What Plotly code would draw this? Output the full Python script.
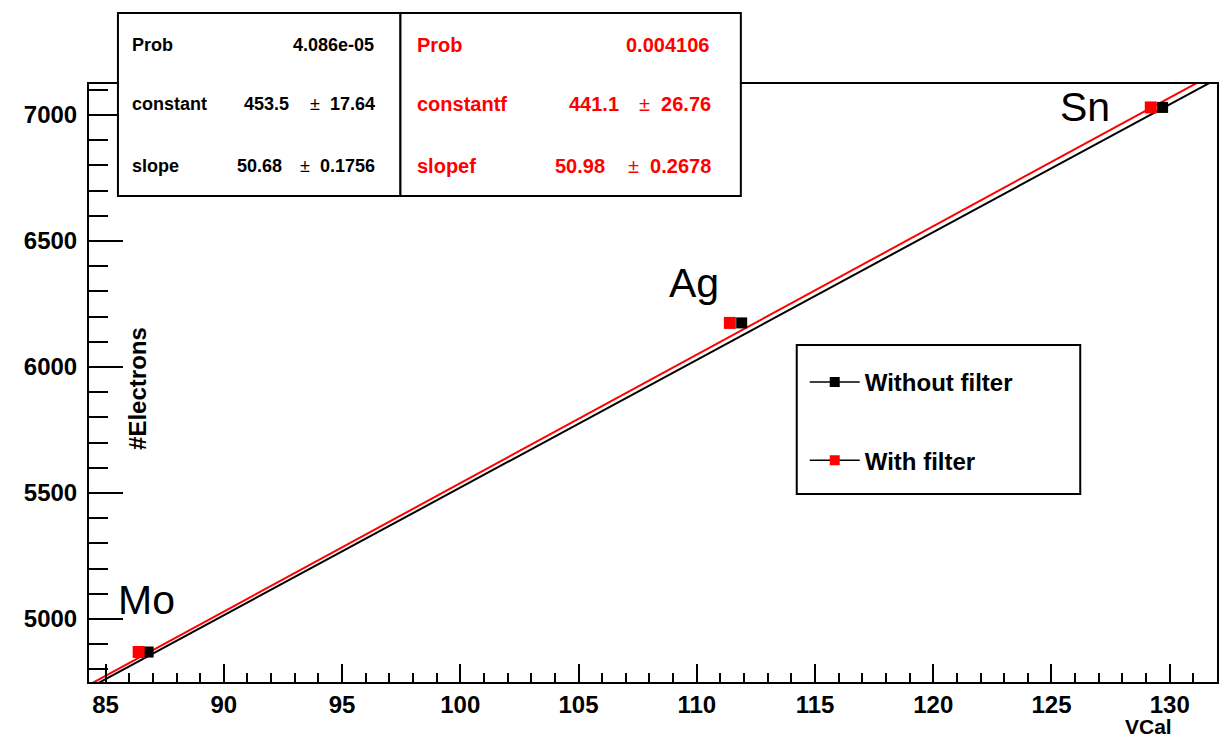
import plotly.graph_objects as go

# ---- data ----
elements = ["Mo", "Ag", "Sn"]
vcal_without = [86.8, 111.9, 129.7]
electrons_without = [4869, 6175, 7030]
vcal_with = [86.4, 111.4, 129.2]
electrons_with = [4869, 6175, 7030]

# fit results shown in the stats boxes
prob_without = "4.086e-05"
constant_without = 453.5
constant_without_err = 17.64
slope_without = 50.68
slope_without_err = 0.1756

prob_with = "0.004106"
constant_with = 441.1
constant_with_err = 26.76
slope_with = 50.98
slope_with_err = 0.2678

x_range = [84.3, 132.0]
y_range = [4750, 7123]
x_ticks = [85, 90, 95, 100, 105, 110, 115, 120, 125, 130]
y_ticks = [5000, 5500, 6000, 6500, 7000]

W, H = 1220, 740
ML, MR, MT, MB = 89, 1, 84, 58
PW = W - ML - MR
PH = H - MT - MB


def px(x):
    return (x - ML) / PW


def py(y):
    return (H - MB - y) / PH


FONT = "Liberation Sans"

fit_x = [x_range[0], x_range[1]]
fit_y_without = [constant_without + slope_without * x for x in fit_x]
fit_y_with = [constant_with + slope_with * x for x in fit_x]

fig = go.Figure()
fig.add_trace(go.Scatter(x=fit_x, y=fit_y_without, mode="lines",
                         line=dict(color="black", width=2), showlegend=False,
                         hoverinfo="skip"))
fig.add_trace(go.Scatter(x=fit_x, y=fit_y_with, mode="lines",
                         line=dict(color="red", width=2), showlegend=False,
                         hoverinfo="skip"))
fig.add_trace(go.Scatter(x=vcal_without, y=electrons_without, mode="markers",
                         marker=dict(symbol="square", size=11, color="black"),
                         showlegend=False, cliponaxis=False))
fig.add_trace(go.Scatter(x=vcal_with, y=electrons_with, mode="markers",
                         marker=dict(symbol="square", size=12, color="red"),
                         showlegend=False, cliponaxis=False))
# legend entries
fig.add_trace(go.Scatter(x=[None], y=[None], mode="lines+markers", name="Without filter",
                         line=dict(color="black", width=1.5),
                         marker=dict(symbol="square", size=10, color="black"),
                         legendgroup="a"))
fig.add_trace(go.Scatter(x=[None], y=[None], mode="lines+markers", name="With filter",
                         line=dict(color="black", width=1.5),
                         marker=dict(symbol="square", size=10, color="red"),
                         legendgroup="b"))

shapes = []
# stats boxes
shapes.append(dict(type="rect", xref="paper", yref="paper",
                   x0=px(118), x1=px(401), y0=py(196), y1=py(13),
                   line=dict(color="black", width=2), fillcolor="white", layer="above"))
shapes.append(dict(type="rect", xref="paper", yref="paper",
                   x0=px(401), x1=px(742), y0=py(196), y1=py(13),
                   line=dict(color="black", width=2), fillcolor="white", layer="above"))
# legend box
shapes.append(dict(type="rect", xref="paper", yref="paper",
                   x0=px(798), x1=px(1082), y0=py(494), y1=py(345),
                   line=dict(color="black", width=2), fillcolor="white", layer="below"))

ann = []


def txt(s, x, y, size, color="black", anchor="left", bold=True):
    ann.append(dict(text=s, xref="paper", yref="paper", x=px(x), y=py(y),
                    xanchor=anchor, yanchor="middle", showarrow=False,
                    font=dict(family=FONT, size=size, color=color,
                              weight="bold" if bold else "normal")))


def err(v):
    return f"±  <b>{v}</b>"


rows = [45, 104, 166]
s1 = 18
txt("Prob", 130, rows[0], s1)
txt(prob_without, 377, rows[0], s1, anchor="right")
txt("constant", 130, rows[1], s1)
txt(f"{constant_without}", 291, rows[1], s1, anchor="right")
txt(err(constant_without_err), 378, rows[1], s1, anchor="right", bold=False)
txt("slope", 130, rows[2], s1)
txt(f"{slope_without}", 284, rows[2], s1, anchor="right")
txt(err(slope_without_err), 378, rows[2], s1, anchor="right", bold=False)

s2 = 20
txt("Prob", 416, rows[0], s2, color="red")
txt(prob_with, 712, rows[0], s2, color="red", anchor="right")
txt("constantf", 416, rows[1], s2, color="red")
txt(f"{constant_with}", 622, rows[1], s2, color="red", anchor="right")
txt(err(constant_with_err), 714, rows[1], s2, color="red", anchor="right", bold=False)
txt("slopef", 416, rows[2], s2, color="red")
txt(f"{slope_with}", 608, rows[2], s2, color="red", anchor="right")
txt(err(slope_with_err), 714, rows[2], s2, color="red", anchor="right", bold=False)

# element labels anchored to the data points
shifts = [(-2, 52), (-48, 40), (-78, 0)]
for name, xv, yv, (dx, dy) in zip(elements, vcal_without, electrons_without, shifts):
    ann.append(dict(text=name, x=xv, y=yv, xref="x", yref="y", showarrow=False,
                    xshift=dx, yshift=dy, xanchor="center", yanchor="middle",
                    font=dict(family=FONT, size=41, color="black")))

# axis titles
txt("VCal", 1176, 726, 21, anchor="right")
ann.append(dict(text="#Electrons", xref="paper", yref="paper", x=px(137), y=py(388),
                textangle=-90, showarrow=False, xanchor="center", yanchor="middle",
                font=dict(family=FONT, size=24, color="black", weight="bold")))

fig.update_layout(
    width=W, height=H,
    margin=dict(l=ML, r=MR, t=MT, b=MB),
    paper_bgcolor="white", plot_bgcolor="white",
    shapes=shapes, annotations=ann,
    showlegend=True,
    legend=dict(x=px(806), y=py(360), xanchor="left", yanchor="top",
                bgcolor="rgba(0,0,0,0)", borderwidth=0,
                font=dict(family=FONT, size=24, color="black", weight="bold"),
                tracegroupgap=44, itemwidth=50),
    xaxis=dict(range=x_range, tickvals=x_ticks, ticks="inside", ticklen=18,
               tickwidth=1.5, tickcolor="black", showgrid=False, zeroline=False,
               showline=True, linecolor="black", linewidth=2, mirror=True,
               tickfont=dict(family=FONT, size=24, color="black", weight="bold"),
               minor=dict(dtick=1, ticks="inside", ticklen=9, tickwidth=1.5,
                          tickcolor="black", showgrid=False)),
    yaxis=dict(range=y_range, tickvals=y_ticks, ticks="inside", ticklen=34,
               tickwidth=1.5, tickcolor="black", showgrid=False, zeroline=False,
               showline=True, linecolor="black", linewidth=2, mirror=True,
               ticklabelstandoff=5,
               tickfont=dict(family=FONT, size=24, color="black", weight="bold"),
               minor=dict(dtick=100, ticks="inside", ticklen=19, tickwidth=1.5,
                          tickcolor="black", showgrid=False)),
)

fig.write_html("out.html")
